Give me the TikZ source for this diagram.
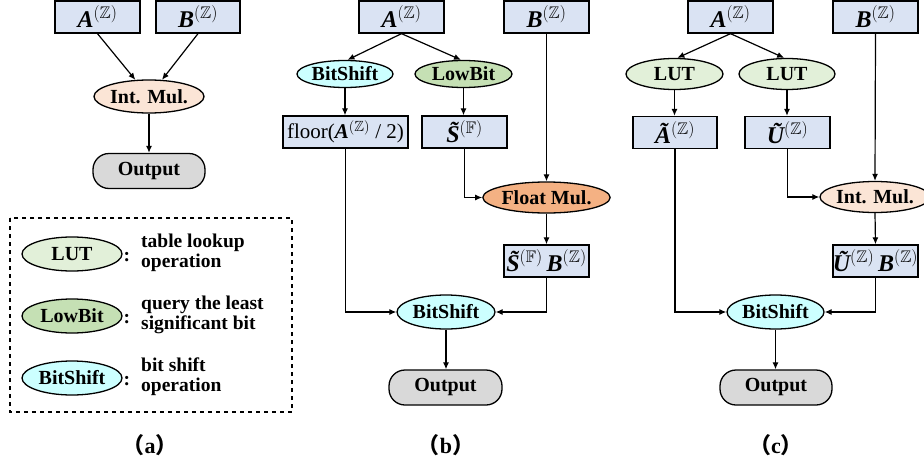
\documentclass[tikz,border=0pt]{standalone}
\usepackage{amsmath,amssymb}
\usepackage{fontspec}
\setmainfont{Liberation Serif}
\newfontfamily\cjk{Noto Sans CJK SC}
\usetikzlibrary{arrows.meta,shapes.geometric}
\definecolor{boxblue}{HTML}{DAE3F3}
\definecolor{intmul}{HTML}{FBE5D6}
\definecolor{floatmul}{HTML}{F4B183}
\definecolor{lutgreen}{HTML}{E2F0D9}
\definecolor{lowbitgreen}{HTML}{C5E0B4}
\definecolor{bitcyan}{HTML}{CCFFFF}
\definecolor{outgray}{HTML}{D9D9D9}
\newcommand{\bA}{\textbf{\textit{A}}}
\newcommand{\bB}{\textbf{\textit{B}}}
\newcommand{\tS}{{\bfseries\itshape S^^^^0303}}
\newcommand{\supZ}{$^{(\mathbb{Z})}$}
\newcommand{\supF}{$^{(\mathbb{F})}$}
\tikzset{
  varbox/.style={draw, fill=boxblue, line width=1.3pt, inner sep=0pt, minimum height=32pt, minimum width=85pt, font=\fontsize{24}{26}\selectfont},
  opell/.style={ellipse, draw, line width=1.3pt, inner sep=0pt, minimum height=27pt, minimum width=97pt, font=\bfseries\fontsize{20}{21}\selectfont},
  outbox/.style={draw, fill=outgray, line width=1.3pt, rounded corners=16pt, inner sep=0pt, minimum height=35pt, minimum width=112pt, font=\bfseries\fontsize{20}{21}\selectfont},
  conn/.style={line width=1.2pt, -{Latex[length=7pt,width=6pt]}},
  legtext/.style={anchor=west, align=left, inner sep=0pt, font=\bfseries\fontsize{19.5}{20}\selectfont},
  sublabel/.style={inner sep=0pt, font=\bfseries\fontsize{22}{24}\selectfont}
}
\begin{document}
\begin{tikzpicture}[x=1pt,y=-1pt]
\useasboundingbox (0,0) rectangle (924,466);
% ---------- panel (a)
\node[varbox] (aA) at (97.5,17) {\bA\supZ};
\node[varbox, minimum width=84pt] (aB) at (198,17) {\bB\supZ};
\node[opell, fill=intmul, minimum width=106pt, minimum height=33pt] (aMul) at (149,96.5) {Int. Mul.};
\node[outbox] (aOut) at (149,171) {Output};
\draw[conn] (aA.south) -- (aMul);
\draw[conn] (aB.south) -- (aMul);
\draw[conn] (aMul) -- (aOut);
% legend
\draw[line width=1.3pt, dash pattern=on 4pt off 4pt] (10,218) rectangle (292,412);
\node[opell, fill=lutgreen, minimum width=100pt, minimum height=34pt] (lLUT) at (72,254) {LUT};
\node[opell, fill=lowbitgreen, minimum width=100pt, minimum height=34pt] (lLB) at (72,316) {LowBit};
\node[opell, fill=bitcyan, minimum width=100pt, minimum height=34pt] (lBS) at (72,378) {BitShift};
\node[legtext] (lc1) at (123.5,257) {:};
\node[legtext] (lc2) at (123.5,319) {:};
\node[legtext] (lc3) at (123.5,381) {:};
\node[legtext] (lt1) at (141,253) {table lookup\\operation};
\node[legtext] (lt2) at (141,315) {query the least\\significant bit};
\node[legtext] (lt3) at (141,377) {bit shift\\operation};
\node[sublabel] (la) at (150,445) {{\cjk （}a{\cjk ）}};
% ---------- panel (b)
\node[varbox] (bA) at (401.5,17) {\bA\supZ};
\node[varbox] (bB) at (546.5,17) {\bB\supZ};
\node[opell, fill=bitcyan, minimum width=96pt] (bBS) at (345,74) {BitShift};
\node[opell, fill=lowbitgreen] (bLB) at (463.5,74) {LowBit};
\node[varbox, minimum width=125pt, font=\fontsize{21}{23}\selectfont] (bFl) at (345.5,132) {floor(\bA\supZ\ / 2)};
\node[varbox] (bS) at (464.5,132) {\tS\supF};
\node[opell, fill=floatmul, minimum width=125pt, minimum height=31pt] (bFM) at (546.5,197.5) {Float Mul.};
\node[varbox] (bSB) at (546.5,261) {\tS\supF\,\bB\supZ};
\node[opell, fill=bitcyan, minimum width=98pt, minimum height=34pt] (bBit) at (446,312) {BitShift};
\node[outbox, minimum width=113pt] (bOut) at (445.5,387.5) {Output};
\draw[conn] (bA.south) -- (bBS.80);
\draw[conn] (bA.south) -- (bLB.100);
\draw[conn] (bBS.south) -- (bBS.south |- bFl.north);
\draw[conn] (bLB.south) -- (bLB.south |- bS.north);
\draw[conn] (bS.south) |- (bFM.west);
\draw[conn] (bB.south) -- (bFM.north);
\draw[conn] (bFM.south) -- (bSB.north);
\draw[conn] (bFl.south) |- (bBit.west);
\draw[conn] (bSB.south) |- (bBit.east);
\draw[conn] (bBit.south) -- (bBit.south |- bOut.north);
\node[sublabel] (lb) at (446,445) {{\cjk （}b{\cjk ）}};
% ---------- panel (c)
\node[varbox] (cA) at (730.5,17) {\bA\supZ};
\node[varbox] (cB) at (875.5,17) {\bB\supZ};
\node[opell, fill=lutgreen, minimum height=31pt] (cL1) at (674.5,74) {LUT};
\node[opell, fill=lutgreen, minimum width=96pt, minimum height=31pt] (cL2) at (787,74) {LUT};
\node[varbox, minimum width=84pt] (cAt) at (675,132.5) {{\bfseries\itshape \~A}\supZ};
\node[varbox] (cU) at (787.5,132.5) {{\bfseries\itshape \~U}\supZ};
\node[opell, fill=intmul, minimum width=105pt, minimum height=31pt] (cMul) at (875,197) {Int. Mul.};
\node[varbox] (cUB) at (875.5,261) {{\bfseries\itshape \~U}\supZ\,\bB\supZ};
\node[opell, fill=bitcyan, minimum height=34pt] (cBit) at (775.5,312) {BitShift};
\node[outbox] (cOut) at (776,387.5) {Output};
\draw[conn] (cA.south) -- (cL1.80);
\draw[conn] (cA.south) -- (cL2.100);
\draw[conn] (cL1.south) -- (cL1.south |- cAt.north);
\draw[conn] (cL2.south) -- (cL2.south |- cU.north);
\draw[conn] (cU.south) |- (cMul.west);
\draw[conn] (cB.south) -- (cMul.north);
\draw[conn] (cMul.south) -- (cUB.north);
\draw[conn] (cAt.south) |- (cBit.west);
\draw[conn] (cUB.south) |- (cBit.east);
\draw[conn] (cBit.south) -- (cBit.south |- cOut.north);
\node[sublabel] (lc) at (776,445) {{\cjk （}c{\cjk ）}};
\end{tikzpicture}
\end{document}
